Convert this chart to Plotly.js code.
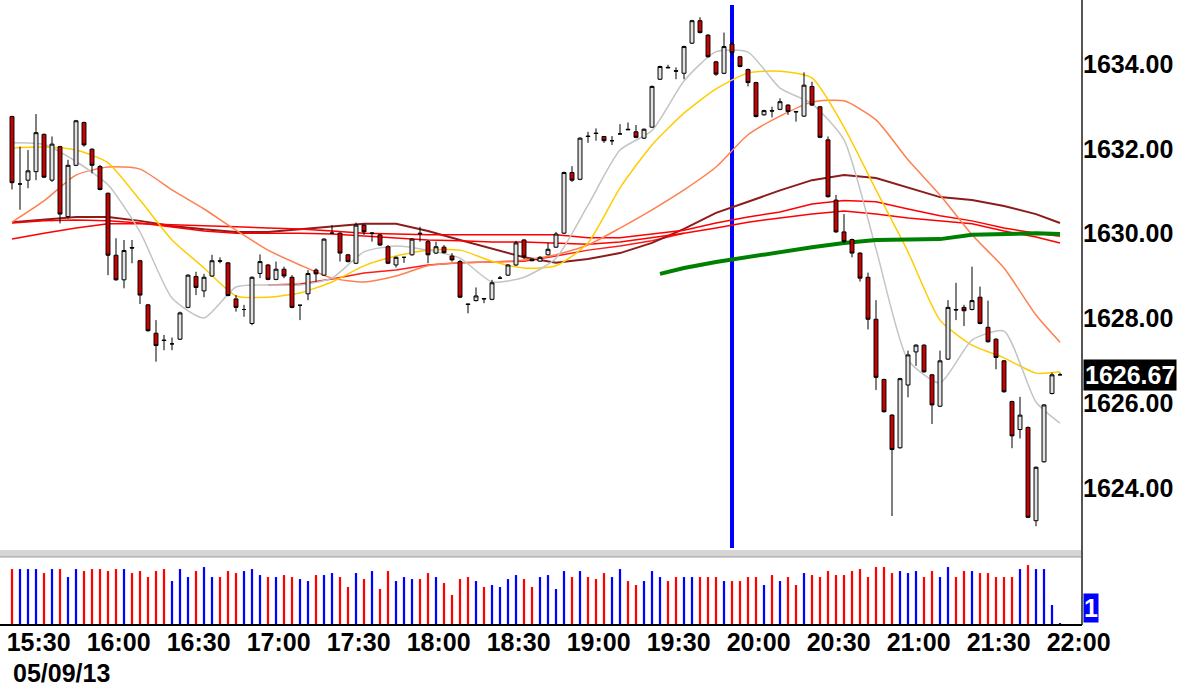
<!DOCTYPE html>
<html><head><meta charset="utf-8">
<script src="https://cdn.plot.ly/plotly-3.0.1.min.js"></script>
<style>html,body{margin:0;padding:0;background:#fff}#chart{width:1186px;height:687px}</style>
</head><body><div id="chart"></div>
<script>
const DAY = "2013-05-09 ";
const dateLabel = "05/09/13";
const markerTime = "19:50";

const times = ["15:20","15:23","15:26","15:29","15:32","15:35","15:38","15:41","15:44","15:47","15:50","15:53","15:56","15:59",
"16:02","16:05","16:08","16:11","16:14","16:17","16:20","16:23","16:26","16:29","16:32","16:35","16:38","16:41","16:44","16:47","16:50","16:53","16:56","16:59",
"17:02","17:05","17:08","17:11","17:14","17:17","17:20","17:23","17:26","17:29","17:32","17:35","17:38","17:41","17:44","17:47","17:50","17:53","17:56","17:59",
"18:02","18:05","18:08","18:11","18:14","18:17","18:20","18:23","18:26","18:29","18:32","18:35","18:38","18:41","18:44","18:47","18:50","18:53","18:56","18:59",
"19:02","19:05","19:08","19:11","19:14","19:17","19:20","19:23","19:26","19:29","19:32","19:35","19:38","19:41","19:44","19:47","19:50","19:53","19:56","19:59",
"20:02","20:05","20:08","20:11","20:14","20:17","20:20","20:23","20:26","20:29","20:32","20:35","20:38","20:41","20:44","20:47","20:50","20:53","20:56","20:59",
"21:02","21:05","21:08","21:11","21:14","21:17","21:20","21:23","21:26","21:29","21:32","21:35","21:38","21:41","21:44","21:47","21:50","21:53"];

const open = [1632.76,1631.17,1631.26,1631.46,1632.34,1631.26,1632.05,1630.40,1631.61,1632.62,1631.99,1631.58,1630.95,1629.49,1628.91,1629.67,1629.36,1628.32,1627.65,1627.49,
1627.40,1627.51,1628.26,1628.99,1628.65,1629.00,1629.36,1629.31,1628.46,1628.21,1627.88,1629.06,1629.26,1628.92,1629.16,1628.97,1628.31,1628.58,1629.14,1629.02,
1630.01,1630.01,1629.50,1629.30,1630.20,1630.01,1629.97,1629.69,1629.26,1629.44,1629.50,1630.01,1629.81,1629.54,1629.68,1629.47,1629.34,1628.34,1628.42,1628.47,
1628.45,1628.95,1629.02,1629.26,1629.85,1629.40,1629.35,1629.50,1629.68,1630.01,1631.44,1631.28,1632.30,1632.37,1632.29,1632.19,1632.35,1632.46,1632.40,1632.25,
1632.51,1633.64,1633.92,1633.84,1633.78,1634.49,1635.02,1634.68,1634.05,1633.78,1634.47,1634.17,1633.87,1633.56,1632.80,1632.90,1632.93,1633.03,1632.88,1632.77,
1633.47,1632.99,1632.21,1630.79,1630.04,1629.86,1629.54,1628.97,1627.98,1626.56,1625.72,1624.95,1626.43,1627.21,1627.37,1626.67,1625.93,1627.04,1628.21,1628.26,
1628.21,1628.50,1627.79,1627.51,1627.00,1626.04,1625.38,1625.43,1623.23,1624.62,1626.23,1626.67];

const high = [1632.78,1632.05,1631.97,1632.82,1632.36,1632.29,1632.07,1631.74,1632.68,1632.64,1632.01,1631.62,1630.97,1629.89,1629.85,1629.85,1629.38,1628.34,1627.96,1627.61,
1627.55,1628.16,1629.04,1629.10,1629.05,1629.50,1629.44,1629.33,1628.55,1628.32,1628.99,1629.51,1629.28,1629.34,1629.22,1629.02,1628.32,1629.14,1629.18,1629.89,
1630.20,1630.03,1629.52,1630.26,1630.22,1630.03,1629.99,1629.73,1629.46,1629.45,1629.89,1630.16,1629.85,1629.81,1629.73,1629.54,1629.38,1628.35,1628.73,1628.48,
1628.91,1629.00,1629.28,1629.83,1629.87,1629.41,1629.47,1629.78,1630.04,1631.46,1631.59,1632.27,1632.40,1632.48,1632.30,1632.30,1632.58,1632.62,1632.56,1632.48,
1633.49,1633.96,1633.98,1633.92,1634.43,1635.04,1635.10,1634.70,1634.07,1634.74,1634.53,1634.19,1633.89,1633.58,1632.92,1632.99,1633.19,1633.05,1632.89,1633.80,
1633.58,1633.01,1632.29,1630.91,1630.46,1629.88,1629.56,1629.08,1628.43,1626.58,1625.74,1626.60,1627.24,1627.39,1627.39,1626.69,1627.24,1628.43,1628.84,1628.32,
1629.22,1628.75,1628.42,1627.53,1627.02,1626.06,1626.15,1625.45,1624.51,1625.98,1626.72,1626.72];

const low = [1631.04,1630.56,1631.07,1631.26,1631.31,1631.22,1630.24,1630.36,1631.59,1632.05,1631.42,1631.02,1629.02,1628.89,1628.71,1629.30,1628.34,1627.69,1626.98,1627.25,
1627.25,1627.49,1628.24,1628.55,1628.50,1628.98,1629.30,1628.52,1628.16,1628.04,1627.84,1628.95,1628.90,1628.90,1628.95,1628.24,1627.96,1628.43,1628.87,1629.00,
1629.99,1629.34,1629.32,1629.28,1629.97,1629.81,1629.71,1629.28,1629.20,1629.31,1629.48,1629.81,1629.30,1629.52,1629.53,1629.34,1628.48,1628.12,1628.40,1628.36,
1628.43,1628.94,1629.00,1629.24,1629.40,1629.35,1629.34,1629.49,1629.66,1629.99,1631.22,1631.26,1632.14,1632.19,1632.14,1632.09,1632.34,1632.44,1632.25,1632.23,
1632.49,1633.62,1633.91,1633.64,1633.64,1634.47,1634.72,1634.15,1633.72,1633.76,1634.17,1633.92,1633.47,1632.74,1632.78,1632.74,1632.91,1632.80,1632.64,1632.75,
1633.01,1632.25,1630.85,1630.02,1629.77,1629.44,1628.87,1627.74,1626.31,1625.78,1623.34,1624.93,1626.14,1626.88,1626.72,1625.51,1625.91,1627.02,1627.96,1627.82,
1628.19,1627.86,1627.43,1626.80,1626.25,1624.94,1625.17,1623.29,1623.10,1624.60,1626.21,1626.67];

const close = [1631.20,1631.17,1631.48,1632.38,1631.33,1632.11,1630.46,1631.61,1632.66,1632.09,1631.61,1631.04,1629.49,1628.91,1629.60,1629.66,1628.55,1627.71,1627.36,1627.48,
1627.40,1628.13,1629.02,1628.73,1628.97,1629.36,1629.35,1628.54,1628.26,1628.21,1628.97,1629.34,1628.92,1629.16,1629.00,1628.26,1628.31,1629.06,1629.05,1629.87,
1630.01,1629.54,1629.34,1630.20,1630.04,1630.01,1629.73,1629.30,1629.44,1629.44,1629.87,1630.00,1629.50,1629.69,1629.55,1629.38,1628.50,1628.33,1628.53,1628.46,
1628.84,1628.95,1629.26,1629.78,1629.45,1629.36,1629.44,1629.63,1629.99,1631.44,1631.26,1632.25,1632.29,1632.36,1632.19,1632.19,1632.35,1632.45,1632.27,1632.46,
1633.47,1633.94,1633.91,1633.83,1634.41,1635.02,1634.74,1634.17,1633.76,1634.41,1634.27,1633.94,1633.56,1632.76,1632.90,1632.89,1633.11,1632.88,1632.87,1633.50,
1633.03,1632.27,1630.87,1630.04,1629.81,1629.54,1628.95,1627.98,1626.61,1625.80,1624.91,1626.58,1627.14,1627.37,1626.74,1625.96,1627.00,1628.26,1628.20,1628.18,
1628.42,1627.88,1627.45,1627.08,1626.27,1625.23,1625.72,1623.31,1624.49,1625.96,1626.67,1626.67];

const volume = [28,28,28,28,26,28,28,24,28,27,28,28,27,28,28,26,27,24,27,28,
22,28,24,27,29,24,24,27,26,27,28,25,24,24,25,24,23,22,25,25,
26,24,19,26,23,27,18,27,22,24,23,23,26,24,21,15,23,24,22,19,
20,19,23,25,23,19,24,25,18,27,24,27,24,23,26,24,28,22,20,22,
27,24,22,24,24,24,24,24,24,22,22,22,24,24,20,25,22,24,20,26,
25,24,27,25,25,27,28,24,29,29,26,27,26,27,24,27,24,29,24,27,
27,26,26,24,24,24,28,30,28,28,10,1];

// Moving averages at sample times
const maTimes = ["15:20","15:32","15:44","15:56","16:08","16:20","16:32","16:44","16:56","17:08","17:20","17:32","17:44","17:56","18:08","18:20","18:32",
"18:44","18:56","19:08","19:20","19:32","19:44","19:56","20:08","20:20","20:32","20:44","20:56","21:08","21:20","21:32","21:44","21:53"];
const maGray = [1632.14,1632.10,1631.70,1631.15,1630.04,1628.48,1628.01,1628.74,1628.79,1628.79,1628.95,1629.57,1629.71,1629.61,1629.42,1628.86,1628.97,
1629.42,1630.67,1631.97,1632.43,1633.60,1634.29,1634.28,1633.43,1633.06,1632.21,1629.64,1627.02,1626.48,1627.49,1627.70,1626.03,1625.53];
const maYellow = [1632.02,1632.04,1631.97,1631.67,1630.79,1629.85,1629.19,1628.53,1628.50,1628.60,1628.86,1629.24,1629.47,1629.61,1629.61,1629.35,1629.19,
1629.24,1629.78,1631.08,1632.09,1632.84,1633.41,1633.79,1633.83,1633.67,1632.51,1631.03,1629.57,1627.96,1627.37,1627.07,1626.71,1626.74];
const maOrange = [1630.27,1630.77,1631.38,1631.57,1631.52,1631.03,1630.58,1630.08,1629.61,1629.26,1628.95,1628.86,1629.00,1629.24,1629.31,1629.33,1629.38,
1629.50,1629.73,1630.13,1630.56,1631.03,1631.57,1632.33,1632.77,1633.10,1633.13,1632.68,1631.74,1630.91,1629.97,1629.19,1628.08,1627.44];
const maMaroon = [1630.27,1630.33,1630.39,1630.39,1630.30,1630.18,1630.10,1630.04,1630.04,1630.10,1630.16,1630.23,1630.23,1630.06,1629.85,1629.64,1629.44,
1629.31,1629.40,1629.54,1629.78,1630.11,1630.49,1630.75,1631.02,1631.26,1631.38,1631.31,1631.08,1630.86,1630.79,1630.65,1630.46,1630.25];
const maRedA = [1629.87,1630.01,1630.13,1630.23,1630.23,1630.21,1630.18,1630.16,1630.13,1630.11,1630.06,1630.01,1629.99,1629.97,1629.97,1629.97,1629.97,
1629.97,1629.90,1629.90,1629.99,1630.08,1630.25,1630.39,1630.51,1630.70,1630.78,1630.75,1630.58,1630.42,1630.30,1630.13,1630.01,1629.94];
const maRedB = [1630.25,1630.30,1630.32,1630.30,1630.25,1630.16,1630.06,1630.01,1630.01,1630.01,1629.99,1629.94,1629.90,1629.85,1629.83,1629.80,1629.80,
1629.78,1629.75,1629.80,1629.90,1630.01,1630.13,1630.27,1630.37,1630.46,1630.53,1630.46,1630.37,1630.30,1630.23,1630.06,1629.92,1629.78];
const maRedC = [null,null,null,null,null,null,null,null,1628.79,1628.81,1628.93,1629.07,1629.14,1629.26,1629.31,1629.33,1629.35,
1629.47,1629.61,1629.71,1629.83,1630.01,null,null,null,null,null,null,null,null,null,null,null,null];
const greenTimes = ["19:23","19:32","19:44","19:56","20:08","20:20","20:32","20:44","20:56","21:08","21:20","21:32","21:44","21:53"];
const greenVals = [1629.05,1629.19,1629.33,1629.45,1629.57,1629.68,1629.78,1629.85,1629.86,1629.87,1629.97,1629.99,1630.01,1629.99];

const T = s => DAY + s;
const x = times.map(T);
const mx = maTimes.map(T);
const UP_VOL = '#0000ff', DOWN_VOL = '#ff0000';
const volColors = close.map((c, i) => c < open[i] ? DOWN_VOL : UP_VOL);

const PRICE_RANGE = [1622.54, 1635.39];
const FAMILY = 'Liberation Sans, Arial, sans-serif';
const FONT = {family: FAMILY, size: 25, color: '#000', weight: 'bold'};

function ma(xs, ys, color, width, smooth) {
  return {type: 'scatter', mode: 'lines', x: xs, y: ys, xaxis: 'x', yaxis: 'y',
    line: {color: color, width: width, shape: smooth ? 'spline' : 'linear', smoothing: 0.6},
    connectgaps: false, hoverinfo: 'skip'};
}

const data = [
  ma(mx, maRedC, '#ff1a1a', 1.5, false),
  ma(mx, maMaroon, '#8c1c1c', 2, false),
  ma(mx, maRedB, '#ff0000', 1.5, false),
  ma(mx, maRedA, '#ff0000', 1.5, false),
  ma(mx, maOrange, '#ff7f50', 1.5, true),
  ma(mx, maYellow, '#ffcc00', 1.5, true),
  ma(mx, maGray, '#c4c4c4', 1.5, true),
  ma(greenTimes.map(T), greenVals, '#008000', 4, false),
  {type: 'candlestick', x: x, open: open, high: high, low: low, close: close,
   xaxis: 'x', yaxis: 'y3', whiskerwidth: 0, hoverinfo: 'skip',
   increasing: {line: {color: '#000000', width: 1}, fillcolor: '#e4e4e4'},
   decreasing: {line: {color: '#000000', width: 1}, fillcolor: '#cc0000'}},
  {type: 'bar', x: x, y: volume, xaxis: 'x', yaxis: 'y2', width: 50000,
   marker: {color: volColors, line: {width: 0}}, hoverinfo: 'skip'}
];

const lastClose = close[close.length - 1];
const lastVol = volume[volume.length - 1];

const layout = {
  width: 1186, height: 687,
  margin: {l: 8, r: 104, t: 5, b: 62},
  paper_bgcolor: '#ffffff', plot_bgcolor: '#ffffff',
  showlegend: false,
  font: FONT,
  xaxis: {type: 'date', range: [T('15:18:30'), T('22:01:15')], anchor: 'y2',
    showgrid: false, zeroline: false, showline: false, ticks: '',
    tickformat: '%H:%M', dtick: 1800000, tick0: T('15:30'),
    tickfont: FONT, rangeslider: {visible: false}, fixedrange: true},
  yaxis: {domain: [0.121, 1], range: PRICE_RANGE, side: 'right', anchor: 'x',
    showgrid: false, zeroline: false, showline: false, ticks: '',
    tickformat: '.2f', dtick: 2, tick0: 1624, tickfont: FONT, fixedrange: true},
  yaxis3: {domain: [0.121, 1], range: PRICE_RANGE, overlaying: 'y', anchor: 'x', visible: false, fixedrange: true},
  yaxis2: {domain: [0, 0.108], range: [0, 33.5], anchor: 'x', visible: false, showgrid: false, zeroline: false, fixedrange: true},
  shapes: [
    {type: 'line', xref: 'x', yref: 'paper', x0: T(markerTime), x1: T(markerTime), y0: 0.124, y1: 1,
     line: {color: '#0000ff', width: 4}, layer: 'below'},
    {type: 'rect', xref: 'paper', yref: 'paper', x0: -0.0075, x1: 1, y0: 0.1097, y1: 0.121,
     fillcolor: '#d6d6d6', line: {width: 0}},
    {type: 'line', xref: 'paper', yref: 'paper', x0: -0.0075, x1: 1, y0: 0.1097, y1: 0.1097,
     line: {color: '#9a9a9a', width: 1}},
    {type: 'line', xref: 'paper', yref: 'paper', x0: 1, x1: 1, y0: 0, y1: 1.01,
     line: {color: '#555555', width: 2}},
    {type: 'line', xref: 'paper', yref: 'paper', x0: -0.0075, x1: 1, y0: 0, y1: 0,
     line: {color: '#000000', width: 2}}
  ],
  annotations: [
    {xref: 'paper', x: 1, xanchor: 'left', xshift: 1, yref: 'y', y: lastClose, yanchor: 'middle',
     text: lastClose.toFixed(2), showarrow: false, bgcolor: '#000000', borderpad: 1,
     font: {family: FAMILY, size: 25, color: '#ffffff', weight: 'bold'}},
    {xref: 'paper', x: 1, xanchor: 'left', xshift: 1, yref: 'y2', y: lastVol, yanchor: 'bottom',
     text: String(lastVol), showarrow: false, bgcolor: '#0000ff', borderpad: 0,
     font: {family: FAMILY, size: 25, color: '#ffffff', weight: 'bold'}},
    {xref: 'paper', x: 0, xanchor: 'left', xshift: 3, yref: 'paper', y: -0.0774, yanchor: 'middle',
     text: dateLabel, showarrow: false, font: FONT}
  ]
};

Plotly.newPlot('chart', data, layout, {displayModeBar: false, staticPlot: true});
</script>
</body></html>
